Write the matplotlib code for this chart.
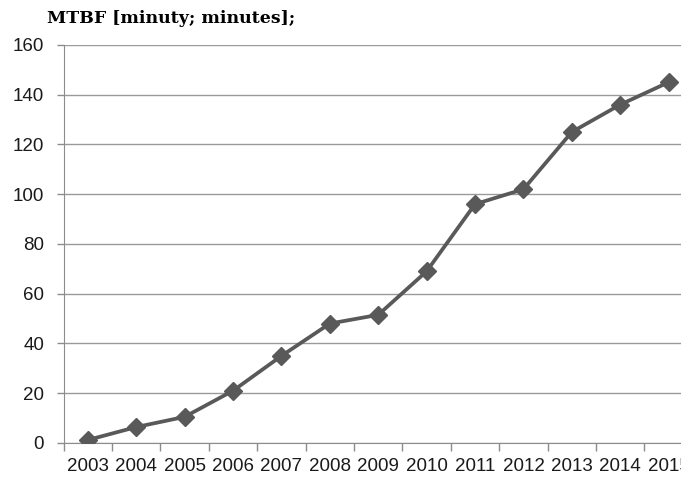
import matplotlib.pyplot as plt
from matplotlib.ticker import MultipleLocator, FixedLocator

# MTBF po latach
lata = ['2003', '2004', '2005', '2006', '2007', '2008', '2009',
        '2010', '2011', '2012', '2013', '2014', '2015']
mtbf = [1.2, 6.4, 10.5, 21, 35, 48, 51.5, 69, 96, 102, 125, 136, 145]

plt.rcParams['font.family'] = ['Liberation Sans Narrow', 'Liberation Sans', 'DejaVu Sans']

fig = plt.figure(figsize=(6.81, 4.79), dpi=100)
ax = fig.add_axes([0.0934, 0.0752, 0.924, 0.831])

x = list(range(len(lata)))
ax.plot(x, mtbf, '-', color='#595959', linewidth=2.7,
        marker='D', markersize=9, markerfacecolor='#595959',
        markeredgecolor='#595959', zorder=3)

ax.set_xlim(-0.5, len(lata) - 0.5)
ax.set_ylim(0, 160)
ax.yaxis.set_major_locator(MultipleLocator(20))
ax.grid(axis='y', color='#9a9a9a', linewidth=1.0)
ax.set_axisbelow(True)

# etykiety lat na srodku kategorii, kreski na granicach
ax.set_xticks(x)
ax.set_xticklabels(lata)
ax.tick_params(axis='x', which='major', length=0, pad=11, labelsize=13.5, labelcolor='#1a1a1a')
ax.xaxis.set_minor_locator(FixedLocator([i - 0.5 for i in range(len(lata) + 1)]))
ax.tick_params(axis='x', which='minor', length=6, color='#8c8c8c', width=1)
ax.tick_params(axis='y', length=5, color='#8c8c8c', width=1, pad=9,
               labelsize=13.5, labelcolor='#1a1a1a')

for s in ['top', 'right']:
    ax.spines[s].set_visible(False)
ax.spines['left'].set_color('#8c8c8c')
ax.spines['bottom'].set_color('#8c8c8c')

fig.text(0.069, 0.962, 'MTBF [minuty; minutes];', fontsize=12.5, fontweight='bold',
         family=['DejaVu Serif'], va='center', ha='left')

fig.savefig('out.png', dpi=100)
